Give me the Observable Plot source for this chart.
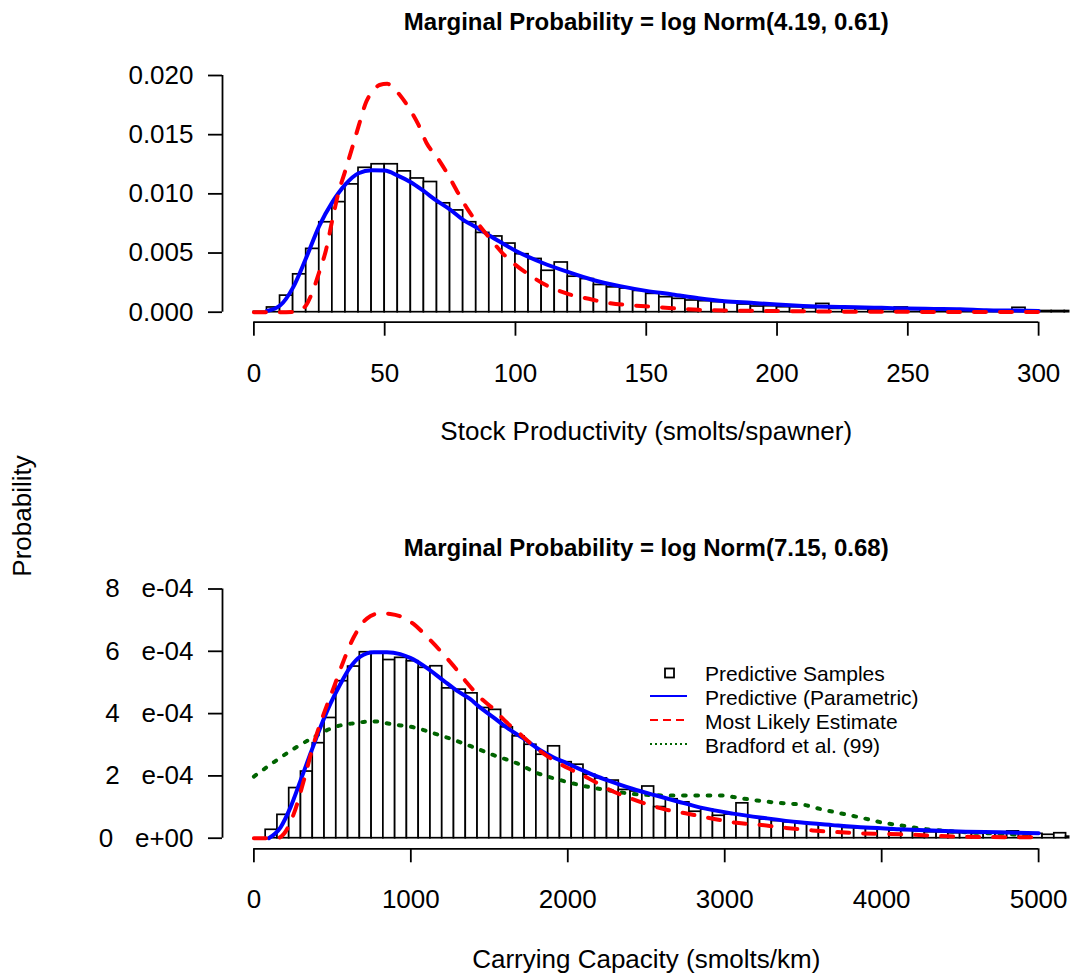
<!DOCTYPE html>
<html>
<head>
<meta charset="utf-8">
<script src="https://cdn.jsdelivr.net/npm/d3@7"></script>
<script src="https://cdn.jsdelivr.net/npm/@observablehq/plot@0.6"></script>
<style>
  body { margin: 0; background: #fff; }
  #chart { position: relative; width: 1073px; height: 976px; background: #fff; overflow: hidden; }
  #chart svg { position: absolute; left: 0; }
  #chart svg text { white-space: pre; }
</style>
</head>
<body>
<div id="chart"></div>
<script>
// ---------------- DATA ----------------
// Top panel: Stock Productivity (smolts/spawner)
const topTitle = "Marginal Probability = log Norm(4.19, 0.61)";
const topXLabel = "Stock Productivity (smolts/spawner)";
const topXTicks = [0, 50, 100, 150, 200, 250, 300];
const topYTicks = [0, 0.005, 0.010, 0.015, 0.020];
const topBinWidth = 5;
const topBinDensity = [
  0.00003, 0.0004, 0.0014, 0.0032, 0.00535, 0.0076, 0.0093, 0.0108, 0.0122, 0.0125,
  0.0125, 0.0119, 0.0113, 0.0110, 0.0092, 0.0086, 0.0076, 0.0067, 0.0064, 0.0058,
  0.0049, 0.0045, 0.0035, 0.0042, 0.0030, 0.0028, 0.0023, 0.0021, 0.0020, 0.0018,
  0.00155, 0.00127, 0.00113, 0.00099, 0.00093, 0.00085, 0.00079, 0.00065, 0.00048, 0.0005,
  0.00042, 0.00042, 0.00034, 0.0007, 0.00028, 0.00028, 0.00025, 0.00022, 0.0002, 0.0004,
  0.0002, 0.0002, 0.00015, 0.00015, 0.00015, 0.00015, 0.00012, 0.00012, 0.00037, 0.0001,
  0.0001, 0.0001, 0.0001
];
const topBlueX = [5, 10, 15, 20, 25, 30, 35, 40, 45, 50, 55, 60, 65, 70, 75, 80, 85, 90, 95, 100,
  110, 120, 130, 140, 150, 160, 170, 180, 190, 200, 210, 220, 230, 240, 250, 260, 270, 280, 290, 300];
const topBlueY = [0.0001, 0.00056, 0.0021, 0.0046, 0.0073, 0.0093, 0.0108, 0.01174, 0.0120, 0.01197,
  0.01154, 0.01098, 0.01022, 0.0094, 0.00867, 0.0078, 0.00718, 0.00648, 0.00583, 0.0052,
  0.0042, 0.0034, 0.0027, 0.0022, 0.0018, 0.0015, 0.00118, 0.00093, 0.00079, 0.00065,
  0.00053, 0.00045, 0.00042, 0.00037, 0.00031, 0.00028, 0.00025, 0.00017, 0.00014, 0.00011];
const topRedX = [0, 10, 15, 18, 20, 22, 25, 27.5, 30, 32, 35, 38, 40, 43, 46, 48, 51, 54, 57, 60,
  63, 66, 70, 74, 78, 82, 86, 90, 95, 100, 105, 112, 120, 128, 135, 144, 153, 160, 170, 180,
  190, 200, 220, 250, 280, 300];
const topRedY = [0, 0, 0.00003, 0.0002, 0.0006, 0.0015, 0.0034, 0.0052, 0.0078, 0.0098,
  0.0120, 0.0142, 0.0157, 0.0178, 0.0188, 0.0192, 0.0193, 0.0188, 0.0180, 0.0170,
  0.0158, 0.0143, 0.0131, 0.0117, 0.0101, 0.0086, 0.0074, 0.0063, 0.0050, 0.0040,
  0.0032, 0.00225, 0.00155, 0.00113, 0.0008, 0.00058, 0.00045, 0.00034, 0.0002, 0.00014,
  0.00012, 0.0001, 0.00005, 0.00003, 0.00002, 0.00002];

// Bottom panel: Carrying Capacity (smolts/km); densities in units of 1e-4
const botTitle = "Marginal Probability = log Norm(7.15, 0.68)";
const botXLabel = "Carrying Capacity (smolts/km)";
const botXTicks = [0, 1000, 2000, 3000, 4000, 5000];
const botYTicks = [0, 2e-4, 4e-4, 6e-4, 8e-4];
const botYTickLabels = ["0   e+00", "2   e-04", "4   e-04", "6   e-04", "8   e-04"];
const botBinWidth = 75;
const botBinDensity = [
  0, 0.27, 0.75, 1.61, 2.14, 3.05, 3.86, 5.04, 5.51, 5.97,
  5.94, 5.72, 5.79, 5.68, 5.47, 5.52, 4.81, 4.77, 4.65, 4.18,
  4.12, 3.56, 3.27, 3.00, 2.68, 2.95, 2.44, 2.36, 2.04, 1.92,
  1.85, 1.55, 1.50, 1.66, 1.00, 1.25, 1.15, 0.85, 0.92, 0.72,
  0.76, 1.12, 0.67, 0.60, 0.55, 0.51, 0.48, 0.46, 0.43, 0.37,
  0.33, 0.32, 0.30, 0.28, 0.25, 0.24, 0.23, 0.19, 0.19, 0.16,
  0.17, 0.14, 0.16, 0.14, 0.22, 0.16, 0.14, 0.11, 0.16, 0.05
];
const botBlueX = [95, 170, 233, 297, 360, 424, 487, 551, 614, 678, 763, 848, 932, 996, 1081, 1208, 1293,
  1377, 1441, 1526, 1610, 1738, 1822, 1907, 1992, 2077, 2161, 2246, 2331, 2416, 2564, 2700, 2840,
  3052, 3264, 3475, 3687, 3899, 4111, 4323, 4535, 4747, 5000];
const botBlueY = [0, 0.35, 0.99, 1.85, 2.71, 3.56, 4.31, 4.95, 5.49, 5.83, 5.97, 5.97, 5.91, 5.79, 5.54, 5.06, 4.74,
  4.47, 4.2, 3.88, 3.56, 3.13, 2.83, 2.6, 2.41, 2.22, 2.03, 1.87, 1.72, 1.58, 1.37, 1.18, 0.99,
  0.79, 0.64, 0.51, 0.42, 0.34, 0.29, 0.25, 0.21, 0.19, 0.16];
const botRedX = [0, 148, 191, 254, 318, 381, 445, 509, 572, 636, 720, 805, 869, 954, 1017, 1102, 1187,
  1271, 1356, 1441, 1526, 1610, 1695, 1780, 1865, 1949, 2034, 2119, 2204, 2289, 2395, 2500, 2607,
  2750, 2882, 3052, 3221, 3391, 3560, 3857, 4153, 4493, 4980];
const botRedY = [0, 0, 0.14, 0.78, 1.85, 3.03, 3.99, 4.84, 5.7, 6.45, 7.05, 7.22, 7.2, 7.08, 6.88, 6.47, 6.02,
  5.54, 5.0, 4.52, 4.15, 3.72, 3.35, 2.97, 2.65, 2.39, 2.17, 1.96, 1.72, 1.50, 1.29, 1.1, 0.94,
  0.8, 0.67, 0.51, 0.43, 0.33, 0.25, 0.16, 0.12, 0.05, 0.03];
const botGreenX = [0, 127, 254, 381, 509, 636, 763, 890, 1017, 1144, 1271, 1399, 1536, 1674, 1801, 1949,
  2119, 2246, 2416, 2564, 2633, 2994, 3058, 3207, 3376, 3504, 3631, 3738, 3929, 4013, 4099, 4268,
  4481, 4672, 4842, 4927];
const botGreenY = [1.98, 2.44, 2.87, 3.24, 3.56, 3.69, 3.75, 3.65, 3.56, 3.37, 3.16, 2.92, 2.65, 2.41, 2.1, 1.87,
  1.66, 1.55, 1.42, 1.38, 1.37, 1.37, 1.32, 1.21, 1.12, 1.07, 0.91, 0.8, 0.59, 0.49, 0.43, 0.3,
  0.21, 0.16, 0.12, 0.085];

const yAxisTitle = "Probability";
const legendLabels = ["Predictive Samples", "Predictive (Parametric)", "Most Likely Estimate", "Bradford et al. (99)"];
const seriesColors = { samples: "#000000", parametric: "#0000ff", mle: "#ff0000", bradford: "#006400" };

// ---------------- BUILD ----------------
const FONT = "'Liberation Sans', Arial, Helvetica, sans-serif";
const E4 = 1e-4;
const topBins = topBinDensity.map((d, i) => ({x1: i * topBinWidth, x2: (i + 1) * topBinWidth, y: d}));
const topBlue = topBlueX.map((x, i) => ({x, y: topBlueY[i]}));
const topRed = topRedX.map((x, i) => ({x, y: topRedY[i]}));
const botBins = botBinDensity.map((d, i) => ({x1: i * botBinWidth, x2: (i + 1) * botBinWidth, y: d * E4}));
const botBlue = botBlueX.map((x, i) => ({x, y: botBlueY[i] * E4}));
const botRed = botRedX.map((x, i) => ({x, y: botRedY[i] * E4}));
const botGreen = botGreenX.map((x, i) => ({x, y: botGreenY[i] * E4}));

const AX = 1.8;
function panel({title, xLabel, xTicks, yTicks, yFormat, xDomain, yDomain, bins, lines,
                marginTop, marginBottom, titleDy, xLabelDy}) {
  return Plot.plot({
    width: 1073, height: 488,
    marginLeft: 222, marginRight: 3.5, marginTop, marginBottom,
    x: {domain: xDomain},
    y: {domain: yDomain},
    style: {fontFamily: FONT, background: "transparent", color: "black", overflow: "visible"},
    marks: [
      Plot.rectY(bins, {x1: "x1", x2: "x2", y1: 0, y2: "y", fill: "white", stroke: "black", strokeWidth: 1.7, clip: true}),
      ...lines,
      Plot.ruleY([yDomain[0]], {x1: xTicks[0], x2: xTicks[xTicks.length - 1], stroke: "black", strokeWidth: AX}),
      Plot.ruleX([xDomain[0]], {y1: yTicks[0], y2: yTicks[yTicks.length - 1], stroke: "black", strokeWidth: AX}),
      Plot.axisX({ticks: xTicks, tickSize: 14, tickPadding: 27, tickFormat: d => String(d), label: null,
        fontSize: 26, strokeWidth: AX}),
      Plot.axisY({ticks: yTicks, tickSize: 14, tickPadding: 15, tickFormat: yFormat, label: null,
        fontSize: 26, strokeWidth: AX}),
      Plot.text([title], {frameAnchor: "top", dy: titleDy, fontWeight: "bold", fontSize: 24}),
      Plot.text([xLabel], {frameAnchor: "bottom", dy: xLabelDy, fontSize: 26})
    ]
  });
}

const topPlot = panel({
  title: topTitle, xLabel: topXLabel, xTicks: topXTicks, yTicks: topYTicks,
  yFormat: d3.format(".3f"), xDomain: [-12, 312], yDomain: [-0.000845, 0.020],
  bins: topBins, marginTop: 75, marginBottom: 166.3, titleDy: -63, xLabelDy: 118,
  lines: [
    Plot.line(topBlue, {x: "x", y: "y", stroke: seriesColors.parametric, strokeWidth: 4, curve: "monotone-x"}),
    Plot.line(topRed, {x: "x", y: "y", stroke: seriesColors.mle, strokeWidth: 4, curve: "monotone-x",
      strokeDasharray: "12,14", strokeLinecap: "round"})
  ]
});
topPlot.style.top = "0px";

const botPlot = panel({
  title: botTitle, xLabel: botXLabel, xTicks: botXTicks, yTicks: botYTicks,
  yFormat: d => botYTickLabels[botYTicks.findIndex(t => Math.abs(t - d) < 1e-9)],
  xDomain: [-200, 5200], yDomain: [-3.4e-5, 8e-4],
  bins: botBins, marginTop: 100.5, marginBottom: 127.7, titleDy: -50, xLabelDy: 119.5,
  lines: [
    Plot.line(botGreen, {x: "x", y: "y", stroke: seriesColors.bradford, strokeWidth: 4, curve: "monotone-x",
      strokeDasharray: "2.7,9.6", strokeLinecap: "round"}),
    Plot.line(botBlue, {x: "x", y: "y", stroke: seriesColors.parametric, strokeWidth: 4, curve: "monotone-x"}),
    Plot.line(botRed, {x: "x", y: "y", stroke: seriesColors.mle, strokeWidth: 4, curve: "monotone-x",
      strokeDasharray: "12,14", strokeLinecap: "round"})
  ]
});
botPlot.style.top = "488px";

const chart = document.getElementById("chart");
chart.appendChild(topPlot);
chart.appendChild(botPlot);

// Overlay: shared y-axis title and legend
const ov = d3.select(chart).append("svg")
  .attr("width", 1073).attr("height", 976)
  .style("top", "0px").style("pointer-events", "none")
  .style("font-family", FONT);
ov.append("text").attr("transform", "translate(22,516) rotate(-90)")
  .attr("text-anchor", "middle").attr("dy", "0.35em").attr("font-size", 26).text(yAxisTitle);

const lg = ov.append("g").attr("transform", "translate(650,673)");
const rowH = 24;
lg.append("rect").attr("x", 15).attr("y", -4.5).attr("width", 9).attr("height", 9)
  .attr("fill", "white").attr("stroke", seriesColors.samples).attr("stroke-width", 1.8);
const legLines = [
  {c: seriesColors.parametric, dash: null},
  {c: seriesColors.mle, dash: "8,5"},
  {c: seriesColors.bradford, dash: "2,3"}
];
legLines.forEach((s, i) => {
  const l = lg.append("line").attr("x1", 0).attr("x2", 37)
    .attr("y1", (i + 1) * rowH - 1).attr("y2", (i + 1) * rowH - 1)
    .attr("stroke", s.c).attr("stroke-width", 2);
  if (s.dash) l.attr("stroke-dasharray", s.dash);
});
legendLabels.forEach((t, i) => {
  lg.append("text").attr("x", 55).attr("y", i * rowH).attr("dy", "0.36em")
    .attr("font-size", 21).text(t);
});
</script>
</body>
</html>
